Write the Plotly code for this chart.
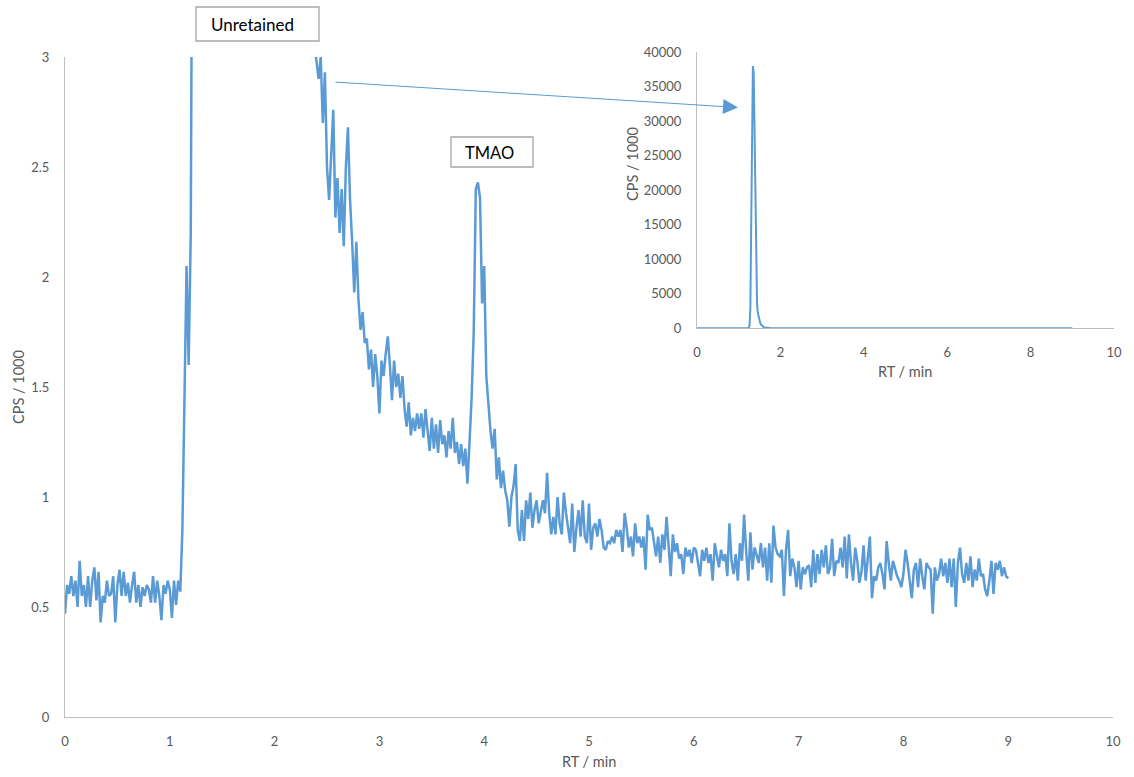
import plotly.graph_objects as go

# ---------------- data (CPS / 1000 sampled every 0.02 min from 0 to 9 min) ----------------
rt_step = 0.02

cps_baseline = [  # 0.00 - 1.10 min
    0.47, 0.60, 0.56, 0.64, 0.55, 0.62, 0.50, 0.71, 0.55, 0.60,
    0.50, 0.64, 0.50, 0.62, 0.68, 0.53, 0.66, 0.43, 0.55, 0.52,
    0.62, 0.55, 0.56, 0.64, 0.43, 0.60, 0.67, 0.55, 0.66, 0.55,
    0.61, 0.52, 0.60, 0.66, 0.52, 0.60, 0.50, 0.59, 0.55, 0.60,
    0.58, 0.52, 0.64, 0.52, 0.62, 0.55, 0.44, 0.60, 0.56, 0.62,
    0.58, 0.45, 0.62, 0.51, 0.62, 0.57,
]
cps_unretained = [  # 1.12 - 2.38 min (mostly off-scale in the main chart)
    0.85, 1.40, 2.05, 1.60, 2.20,
    4.5, 60, 400, 3000, 15000, 32000, 38000, 37000, 28000, 15000,
    6000, 3500, 2200, 1500, 1000, 700, 500, 350, 250, 180,
    130, 95, 70, 52, 42,
    36, 30, 25, 21, 18, 16, 14, 12.5, 11, 10,
    9.2, 8.5, 7.8, 7.2, 6.7, 6.2, 5.8, 5.4, 5.1, 4.8,
    4.6, 4.4, 4.2, 4.0, 3.85, 3.7, 3.6, 3.5, 3.4, 3.3,
    3.25, 3.15, 3.1, 3.05,
]
cps_decay = [  # 2.40 - 3.86 min
    2.98, 2.90, 3.00, 2.70, 2.93, 2.50, 2.35, 2.55, 2.76, 2.27,
    2.45, 2.20, 2.40, 2.14, 2.50, 2.68, 2.35, 2.16, 1.93, 2.16,
    1.90, 1.76, 1.84, 1.70, 1.72, 1.58, 1.67, 1.50, 1.65, 1.55,
    1.38, 1.62, 1.55, 1.65, 1.73, 1.60, 1.44, 1.62, 1.50, 1.56,
    1.45, 1.55, 1.40, 1.32, 1.43, 1.28, 1.36, 1.30, 1.38, 1.31,
    1.38, 1.27, 1.40, 1.30, 1.21, 1.36, 1.22, 1.33, 1.20, 1.35,
    1.24, 1.28, 1.18, 1.30, 1.22, 1.36, 1.20, 1.25, 1.15, 1.24,
    1.14, 1.22, 1.06, 1.25,
]
cps_tmao = [  # 3.88 - 4.20 min
    1.45, 1.75, 2.40, 2.43, 2.36, 1.88, 2.05, 1.55, 1.40, 1.30,
    1.22, 1.31, 1.08, 1.18, 1.04, 1.12, 1.03,
]
cps_tail1 = [  # 4.22 - 6.60 min
    0.985, 0.865, 1.00, 1.05, 1.15, 0.85, 0.80, 0.94, 0.80, 0.985,
    0.90, 1.02, 0.86, 0.94, 0.985, 0.88, 0.94, 0.985, 0.926, 1.11,
    0.93, 0.83, 0.91, 0.83, 1.00, 0.88, 0.83, 1.02, 0.93, 0.87,
    0.79, 0.97, 0.75, 0.86, 0.94, 0.82, 0.985, 0.82, 0.79, 0.97,
    0.76, 0.86, 0.88, 0.82, 0.90, 0.85, 0.77, 0.76, 0.80, 0.79,
    0.82, 0.79, 0.85, 0.82, 0.85, 0.75, 0.926, 0.86, 0.77, 0.82,
    0.73, 0.88, 0.79, 0.82, 0.77, 0.82, 0.67, 0.92, 0.85, 0.86,
    0.80, 0.73, 0.82, 0.70, 0.83, 0.76, 0.91, 0.76, 0.64, 0.83,
    0.75, 0.79, 0.72, 0.74, 0.65, 0.77, 0.73, 0.76, 0.70, 0.77,
    0.76, 0.70, 0.64, 0.76, 0.71, 0.77, 0.70, 0.74, 0.62, 0.79,
    0.74, 0.68, 0.76, 0.71, 0.74, 0.64, 0.88, 0.71, 0.65, 0.74,
    0.62, 0.79, 0.71, 0.92, 0.75, 0.62, 0.84, 0.67, 0.77, 0.73,
]
cps_tail2 = [  # 6.62 - 9.00 min
    0.70, 0.79, 0.68, 0.77, 0.62, 0.79, 0.61, 0.87, 0.77, 0.74,
    0.73, 0.76, 0.55, 0.76, 0.85, 0.64, 0.72, 0.68, 0.59, 0.71,
    0.58, 0.68, 0.65, 0.68, 0.69, 0.59, 0.76, 0.61, 0.74, 0.65,
    0.76, 0.68, 0.78, 0.65, 0.68, 0.81, 0.64, 0.71, 0.70, 0.77,
    0.68, 0.82, 0.63, 0.83, 0.70, 0.62, 0.77, 0.71, 0.61, 0.66,
    0.78, 0.62, 0.74, 0.82, 0.54, 0.64, 0.62, 0.68, 0.70, 0.65,
    0.58, 0.80, 0.70, 0.62, 0.71, 0.67, 0.64, 0.62, 0.59, 0.65,
    0.76, 0.70, 0.62, 0.54, 0.67, 0.70, 0.59, 0.72, 0.64, 0.58,
    0.70, 0.68, 0.67, 0.47, 0.68, 0.62, 0.65, 0.72, 0.64, 0.70,
    0.61, 0.72, 0.59, 0.72, 0.50, 0.70, 0.77, 0.65, 0.61, 0.70,
    0.62, 0.73, 0.59, 0.67, 0.62, 0.72, 0.64, 0.65, 0.58, 0.55,
    0.62, 0.71, 0.56, 0.70, 0.67, 0.71, 0.64, 0.68, 0.64, 0.63,
]

cps = cps_baseline + cps_unretained + cps_decay + cps_tmao + cps_tail1 + cps_tail2
rt = [round(i * rt_step, 2) for i in range(len(cps))]

main_x_ticks = [0, 1, 2, 3, 4, 5, 6, 7, 8, 9, 10]
main_y_ticks = [0, 0.5, 1, 1.5, 2, 2.5, 3]
inset_x_ticks = [0, 2, 4, 6, 8, 10]
inset_y_ticks = [0, 5000, 10000, 15000, 20000, 25000, 30000, 35000, 40000]

# ---------------- figure ----------------
W, H = 1134, 777
LINE = "#5B9BD5"
AXIS = "#BFBFBF"
TXT = "#595959"
FONT = "Lato"


def px(x):
    return x / W


def py(y):
    return (H - y) / H


fig = go.Figure()
fig.add_trace(go.Scatter(x=rt, y=cps, mode="lines", line=dict(color=LINE, width=2.5),
                         xaxis="x", yaxis="y", showlegend=False, hoverinfo="skip"))
fig.add_trace(go.Scatter(x=rt, y=cps, mode="lines", line=dict(color=LINE, width=2),
                         xaxis="x2", yaxis="y2", showlegend=False, hoverinfo="skip"))

tickfont = dict(family=FONT, size=13, color=TXT)
common = dict(showgrid=False, zeroline=False, showline=True, linecolor=AXIS, linewidth=1,
              ticks="", tickfont=tickfont, fixedrange=True, automargin=False)

fig.update_layout(
    template="none",
    width=W, height=H,
    margin=dict(l=0, r=0, t=0, b=0, pad=0),
    paper_bgcolor="white", plot_bgcolor="rgba(0,0,0,0)",
    xaxis=dict(domain=[px(65), px(1113)], range=[0, 10], tickvals=main_x_ticks,
               ticklabelstandoff=12, anchor="y", **common),
    yaxis=dict(domain=[py(717), py(57)], range=[0, 3], tickvals=main_y_ticks,
               ticktext=[str(v) for v in main_y_ticks], ticklabelstandoff=12,
               anchor="x", **common),
    xaxis2=dict(domain=[px(697), px(1114)], range=[0, 10], tickvals=inset_x_ticks,
                ticklabelstandoff=12, anchor="y2", **common),
    yaxis2=dict(domain=[py(328.3), py(52.3)], range=[0, 40000], tickvals=inset_y_ticks,
                ticktext=[str(v) for v in inset_y_ticks], ticklabelstandoff=12,
                anchor="x2", **common),
)

titlefont = dict(family=FONT, size=14.5, color=TXT)
annos = [
    dict(text="RT / min", x=px(589), y=py(761), xref="paper", yref="paper",
         showarrow=False, font=titlefont, xanchor="center", yanchor="middle"),
    dict(text="CPS / 1000", x=px(18), y=py(387), xref="paper", yref="paper",
         showarrow=False, font=titlefont, textangle=-90, xanchor="center", yanchor="middle"),
    dict(text="RT / min", x=px(905), y=py(371), xref="paper", yref="paper",
         showarrow=False, font=titlefont, xanchor="center", yanchor="middle"),
    dict(text="CPS / 1000", x=px(632), y=py(164), xref="paper", yref="paper",
         showarrow=False, font=titlefont, textangle=-90, xanchor="center", yanchor="middle"),
    dict(text="Unretained", x=px(209), y=py(24), xref="paper", yref="paper",
         showarrow=False, font=dict(family=FONT, size=17, color="#000000"),
         xanchor="left", yanchor="middle"),
    dict(text="TMAO", x=px(463), y=py(153), xref="paper", yref="paper",
         showarrow=False, font=dict(family=FONT, size=16.5, color="#000000"),
         xanchor="left", yanchor="middle"),
    dict(text="", x=(738 - 65) / 104.8, y=(717 - 107.5) / 220,
         ax=(334 - 65) / 104.8, ay=(717 - 82) / 220,
         xref="x", yref="y", axref="x", ayref="y",
         showarrow=True, arrowhead=2, arrowsize=3, arrowwidth=1,
         arrowcolor=LINE, standoff=0, startstandoff=0),
]
fig.update_layout(annotations=annos)

boxline = dict(color="#A6A6A6", width=1.3)
fig.update_layout(shapes=[
    dict(type="rect", xref="paper", yref="paper", x0=px(196), x1=px(319),
         y0=py(41), y1=py(7), line=boxline, fillcolor="white", layer="above"),
    dict(type="rect", xref="paper", yref="paper", x0=px(451), x1=px(533),
         y0=py(167), y1=py(137), line=boxline, fillcolor="rgba(0,0,0,0)", layer="above"),
])

fig.write_html("out.html", config={"displayModeBar": False},
               post_script="document.body.style.margin='0';document.body.style.overflow='hidden';")
